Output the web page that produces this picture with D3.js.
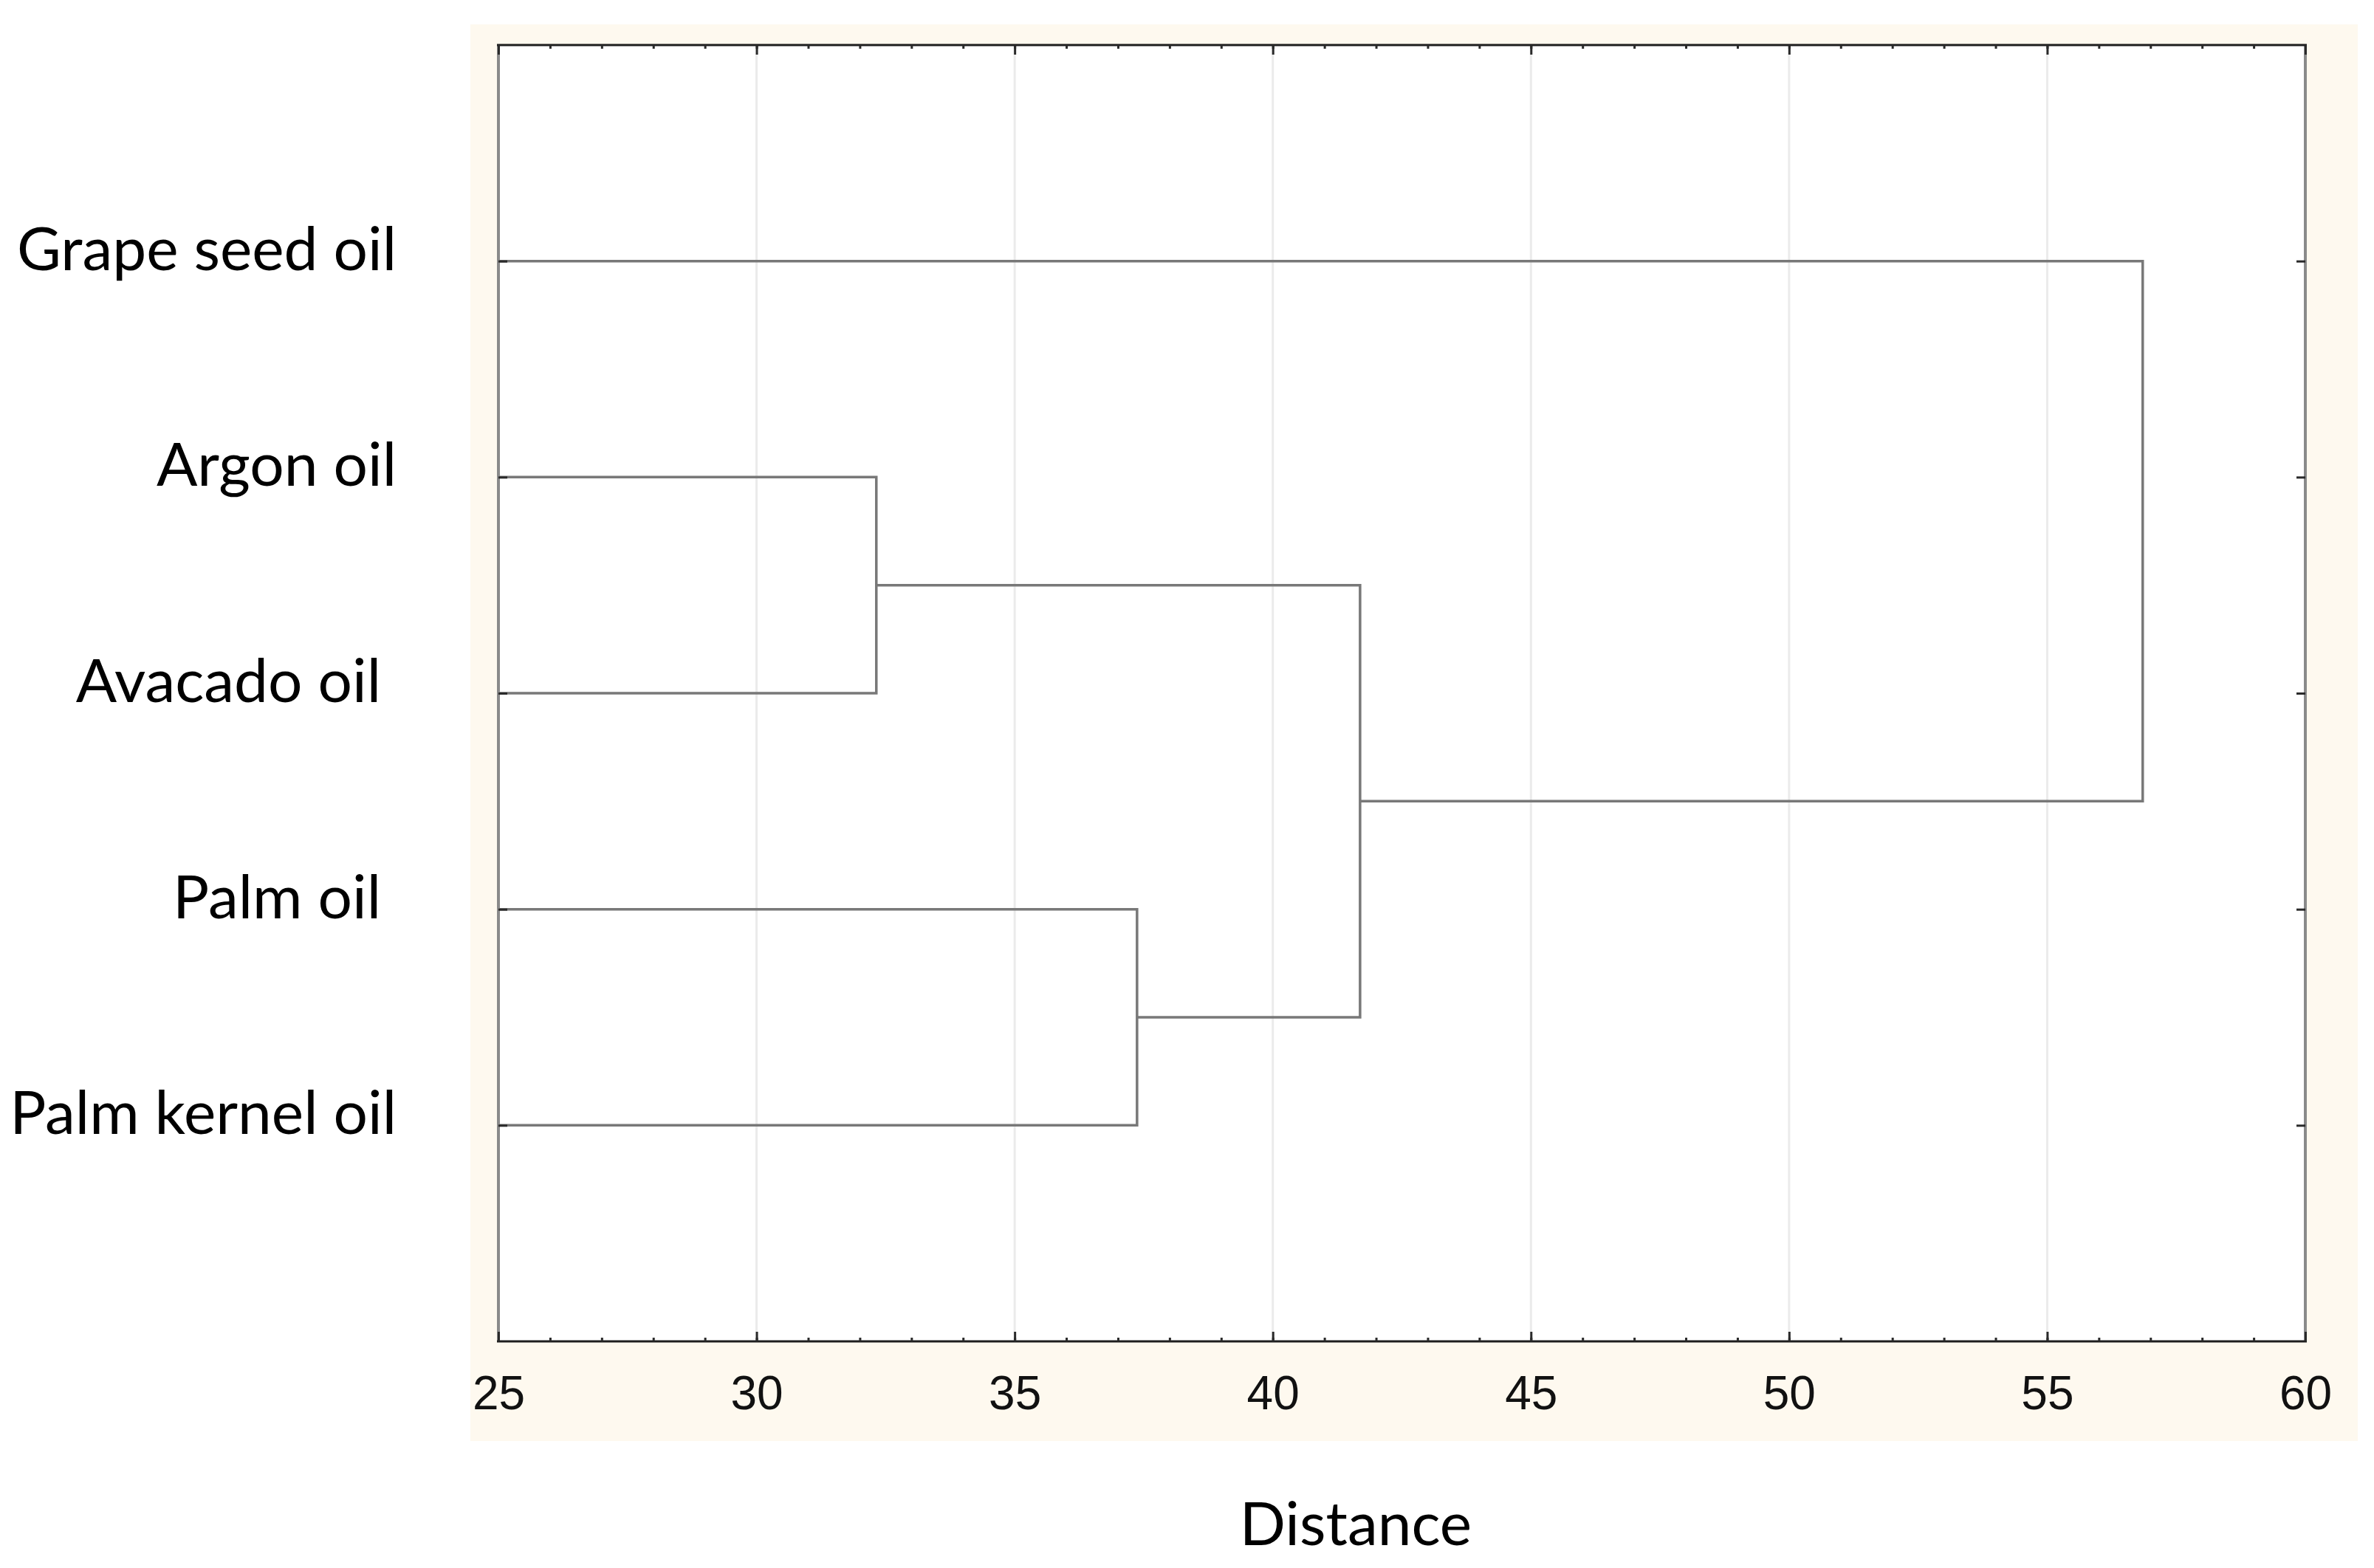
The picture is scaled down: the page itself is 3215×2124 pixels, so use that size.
<!DOCTYPE html>
<html>
<head>
<meta charset="utf-8">
<script src="https://cdn.jsdelivr.net/npm/d3@7"></script>
<style>
  html, body { margin: 0; padding: 0; background: #ffffff; }
  svg { display: block; }
  .leaf-label { white-space: pre; }
</style>
</head>
<body>
<svg id="chart" width="3215" height="2124"></svg>
<script>
// ---- data ----
const leaves = ["Grape seed oil", "Argon oil", "Avacado oil ", "Palm oil ", "Palm kernel oil"];
// linkage: [child A, child B, distance]; indices >= leaves.length refer to earlier merges
const merges = [
  [1, 2, 32.32],
  [3, 4, 37.37],
  [5, 6, 41.69],
  [0, 7, 56.85]
];
const xTicks = [25, 30, 35, 40, 45, 50, 55, 60];
const gridTicks = [30, 35, 40, 45, 50, 55];
const minorTicks = d3.range(25, 61, 1);
const xDomain = [25, 60];
const axisTitle = "Distance";

// ---- layout ----
const W = 3215, H = 2124;
const plot = { left: 675, right: 3122, top: 61, bottom: 1817 };
const svg = d3.select("#chart");

const x = d3.scaleLinear().domain(xDomain).range([plot.left, plot.right]);
const y = d3.scaleLinear().domain([0, leaves.length + 1]).range([plot.top, plot.bottom]);

// backgrounds
svg.append("rect").attr("x", 637).attr("y", 33).attr("width", 3193 - 637).attr("height", 1952 - 33)
  .attr("fill", "#fef9ef");
svg.append("rect").attr("x", plot.left).attr("y", plot.top)
  .attr("width", plot.right - plot.left).attr("height", plot.bottom - plot.top).attr("fill", "#ffffff");

// grid
svg.append("g").selectAll("line").data(gridTicks).join("line")
  .attr("x1", d => x(d)).attr("x2", d => x(d))
  .attr("y1", plot.top).attr("y2", plot.bottom)
  .attr("stroke", "#ebebeb").attr("stroke-width", 3);

// nodes
const nodes = leaves.map((name, i) => ({ name, h: xDomain[0], pos: i + 1 }));
merges.forEach(([a, b, h]) => {
  nodes.push({ a, b, h, pos: (nodes[a].pos + nodes[b].pos) / 2 });
});

// links
const links = svg.append("g").attr("fill", "none").attr("stroke", "#787878").attr("stroke-width", 3.5)
  .attr("stroke-linejoin", "miter");
merges.forEach(([a, b, h]) => {
  const na = nodes[a], nb = nodes[b];
  const p = d3.path();
  p.moveTo(x(na.h), y(na.pos));
  p.lineTo(x(h), y(na.pos));
  p.lineTo(x(h), y(nb.pos));
  p.lineTo(x(nb.h), y(nb.pos));
  links.append("path").attr("d", p.toString());
});

// frame
const frame = svg.append("g");
frame.append("line").attr("x1", plot.left).attr("x2", plot.left).attr("y1", plot.top).attr("y2", plot.bottom)
  .attr("stroke", "#8a8a8a").attr("stroke-width", 4);
frame.append("line").attr("x1", plot.right).attr("x2", plot.right).attr("y1", plot.top).attr("y2", plot.bottom)
  .attr("stroke", "#8a8a8a").attr("stroke-width", 4);
frame.append("line").attr("x1", plot.left - 2).attr("x2", plot.right + 2).attr("y1", plot.top).attr("y2", plot.top)
  .attr("stroke", "#1e1e1e").attr("stroke-width", 3);
frame.append("line").attr("x1", plot.left - 2).attr("x2", plot.right + 2).attr("y1", plot.bottom).attr("y2", plot.bottom)
  .attr("stroke", "#1e1e1e").attr("stroke-width", 3);

function styleTicks(g) {
  g.select(".domain").remove();
  g.selectAll(".tick line").attr("stroke", "#2a2a2a").attr("stroke-width", 3);
  g.selectAll(".tick text").remove();
}

// bottom axis ticks (inward = up)
svg.append("g").attr("transform", `translate(0,${plot.bottom})`)
  .call(d3.axisTop(x).tickValues(minorTicks).tickSize(5)).call(styleTicks);
svg.append("g").attr("transform", `translate(0,${plot.bottom})`)
  .call(d3.axisTop(x).tickValues(xTicks).tickSize(13)).call(styleTicks);
// top axis ticks (inward = down)
svg.append("g").attr("transform", `translate(0,${plot.top})`)
  .call(d3.axisBottom(x).tickValues(minorTicks).tickSize(5)).call(styleTicks);
svg.append("g").attr("transform", `translate(0,${plot.top})`)
  .call(d3.axisBottom(x).tickValues(xTicks).tickSize(13)).call(styleTicks);
// left / right ticks at leaves
const leafPos = leaves.map((d, i) => i + 1);
svg.append("g").attr("transform", `translate(${plot.left},0)`)
  .call(d3.axisRight(y).tickValues(leafPos).tickSize(12)).call(styleTicks);
svg.append("g").attr("transform", `translate(${plot.right},0)`)
  .call(d3.axisLeft(y).tickValues(leafPos).tickSize(12)).call(styleTicks);

// tick labels
const xLab = svg.append("g").attr("transform", `translate(0,${plot.bottom})`)
  .call(d3.axisBottom(x).tickValues(xTicks).tickSize(0).tickPadding(47).tickFormat(d3.format("d")));
xLab.select(".domain").remove();
xLab.selectAll("text").attr("font-family", "'Liberation Sans', Arial, sans-serif")
  .attr("font-size", 64).attr("fill", "#111");

// leaf labels
svg.append("g").selectAll("text").data(leaves).join("text")
  .attr("class", "leaf-label")
  .attr("x", 537).attr("y", (d, i) => y(i + 1) + 12)
  .attr("text-anchor", "end")
  .attr("font-family", "Lato, 'Open Sans', sans-serif")
  .attr("font-size", 82).attr("fill", "#000")
  .text(d => d);

// axis title
svg.append("text").attr("x", 1836).attr("y", 2093).attr("text-anchor", "middle")
  .attr("font-family", "Lato, 'Open Sans', sans-serif").attr("font-size", 82).attr("fill", "#000")
  .text(axisTitle);
</script>
</body>
</html>
